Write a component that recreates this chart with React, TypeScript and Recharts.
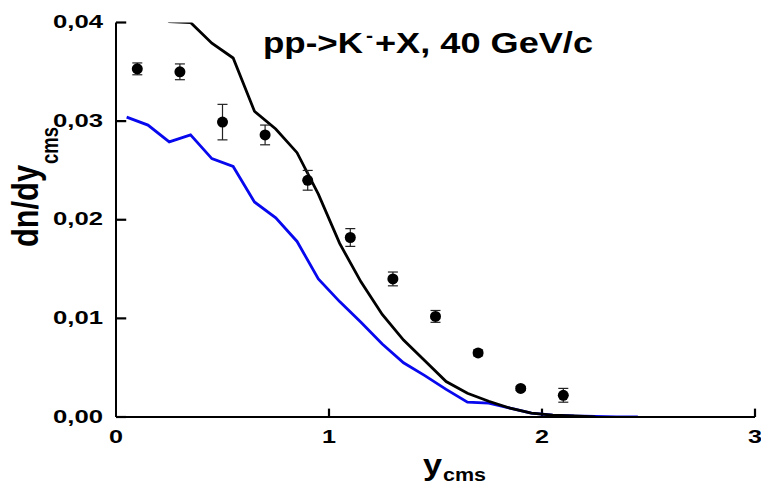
import React from 'react';
import { ComposedChart, Line, Scatter, ErrorBar, XAxis, YAxis, ReferenceLine } from 'recharts';

// model curves (black = upper calc, blue = lower calc)
const blackX = [0.05, 0.15, 0.25, 0.35, 0.45, 0.55, 0.65, 0.75, 0.85, 0.95, 1.05, 1.15, 1.25, 1.35, 1.45, 1.55, 1.65, 1.75, 1.85, 1.95, 2.05, 2.15, 2.25];
const blackY = [0.0432, 0.0418, 0.0401, 0.04, 0.0379, 0.0364, 0.031, 0.0292, 0.0268, 0.0226, 0.0176, 0.0137, 0.0104, 0.0078, 0.0057, 0.0036, 0.0024, 0.0016, 0.0009, 0.0004, 0.0002, 0.0001, 0];

const blueX = [0.05, 0.15, 0.25, 0.35, 0.45, 0.55, 0.65, 0.75, 0.85, 0.95, 1.05, 1.15, 1.25, 1.35, 1.45, 1.55, 1.65, 1.75, 1.85, 1.95, 2.05, 2.15, 2.25, 2.35, 2.45];
const blueY = [0.0304, 0.0296, 0.0279, 0.0286, 0.0262, 0.0254, 0.0218, 0.0202, 0.0178, 0.014, 0.0117, 0.0096, 0.0074, 0.0055, 0.0042, 0.0028, 0.0015, 0.0014, 0.0009, 0.0004, 0.0002, 0.0001, 0.00005, 0, 0];

// experimental points
const expX = [0.1, 0.3, 0.5, 0.7, 0.9, 1.1, 1.3, 1.5, 1.7, 1.9, 2.1];
const expY = [0.0353, 0.035, 0.0299, 0.0286, 0.024, 0.0182, 0.014, 0.0102, 0.0065, 0.0029, 0.0022];
const expErr = [0.0006, 0.0008, 0.0018, 0.001, 0.001, 0.0009, 0.0007, 0.0006, 0.0003, 0.0002, 0.0007];

const xTicks = [0, 1, 2, 3];
const yTicks = [0, 0.01, 0.02, 0.03, 0.04];

const FONT = '"Liberation Sans", Arial, sans-serif';
const W = 761;
const H = 491;
const Y_AXIS_W = 116;
const X_AXIS_H = 74;
const PLOT_BOTTOM = H - X_AXIS_H;
// inward tick lengths in data units (~10px and ~8px)
const Y_TICK_LEN = 0.048;
const X_TICK_LEN = 0.00085;

const blackData = blackX.map((x, i) => ({ x, y: blackY[i] }));
const blueData = blueX.map((x, i) => ({ x, y: blueY[i] }));
const expData = expX.map((x, i) => ({ x, y: expY[i], err: expErr[i] }));

const YTick = ({ y, payload }: any) => {
  const label = payload.value.toFixed(2).replace('.', ',');
  return (
    <text x={Y_AXIS_W - 63} y={y + 5.6} textLength={50} lengthAdjust="spacingAndGlyphs"
      fontFamily={FONT} fontWeight="bold" fontSize={18.6} fill="#000">
      {label}
    </text>
  );
};

const XTick = ({ x, payload }: any) => (
  <text x={x - 7} y={PLOT_BOTTOM + 25.7} textLength={14} lengthAdjust="spacingAndGlyphs"
    fontFamily={FONT} fontWeight="bold" fontSize={18.6} fill="#000">
    {String(payload.value)}
  </text>
);

const Dot = (props: any) => <circle cx={props.cx} cy={props.cy} r={5.5} fill="#000" />;

export default function App() {
  return (
    <div style={{ position: 'absolute', left: 0, top: 0, width: W, height: H, background: '#fff' }}>
      <ComposedChart width={W} height={H} margin={{ top: 22.5, right: 6, bottom: 0, left: 0 }}>
        <XAxis type="number" dataKey="x" domain={[0, 3]} ticks={xTicks} allowDataOverflow
          height={X_AXIS_H} axisLine={{ stroke: '#000', strokeWidth: 2 }}
          tickLine={false} tick={<XTick />} />
        <YAxis type="number" dataKey="y" domain={[0, 0.04]} ticks={yTicks} allowDataOverflow
          width={Y_AXIS_W} axisLine={{ stroke: '#000', strokeWidth: 2 }}
          tickLine={false} tick={<YTick />} />
        {yTicks.map((v) => (
          <ReferenceLine key={'yt' + v} segment={[{ x: 0, y: v }, { x: Y_TICK_LEN, y: v }]}
            stroke="#000" strokeWidth={2.2} ifOverflow="visible" />
        ))}
        {xTicks.slice(1).map((v) => (
          <ReferenceLine key={'xt' + v} segment={[{ x: v, y: 0 }, { x: v, y: X_TICK_LEN }]}
            stroke="#000" strokeWidth={2.2} ifOverflow="visible" />
        ))}
        <Line data={blueData} dataKey="y" type="linear" stroke="#0808ee" strokeWidth={2.8}
          dot={false} activeDot={false} isAnimationActive={false} />
        <Line data={blackData} dataKey="y" type="linear" stroke="#000" strokeWidth={2.8}
          dot={false} activeDot={false} isAnimationActive={false} />
        <Scatter data={expData} dataKey="y" shape={<Dot />} isAnimationActive={false}>
          <ErrorBar dataKey="err" direction="y" width={5} stroke="#222" strokeWidth={1.2} />
        </Scatter>
      </ComposedChart>
      <svg width={W} height={H} style={{ position: 'absolute', left: 0, top: 0, pointerEvents: 'none' }}>
        <g fontFamily={FONT} fontWeight="bold" fill="#000">
          {/* title */}
          <text x={263} y={53} fontSize={29} textLength={100} lengthAdjust="spacingAndGlyphs">pp-&gt;K</text>
          <text x={366} y={42} fontSize={18} textLength={7} lengthAdjust="spacingAndGlyphs">-</text>
          <text x={375} y={53} fontSize={29} textLength={218} lengthAdjust="spacingAndGlyphs">+X, 40 GeV/c</text>
          {/* y axis title */}
          <g transform="translate(38,247) scale(1.3,1) rotate(-90)">
            <text x={0} y={0} fontSize={28} textLength={82} lengthAdjust="spacingAndGlyphs">dn/dy</text>
            <text x={83} y={15} fontSize={18} textLength={37} lengthAdjust="spacingAndGlyphs">cms</text>
          </g>
          {/* x axis title */}
          <text x={423} y={475} fontSize={30} textLength={19} lengthAdjust="spacingAndGlyphs">y</text>
          <text x={443} y={480.5} fontSize={18} textLength={43} lengthAdjust="spacingAndGlyphs">cms</text>
        </g>
      </svg>
    </div>
  );
}
